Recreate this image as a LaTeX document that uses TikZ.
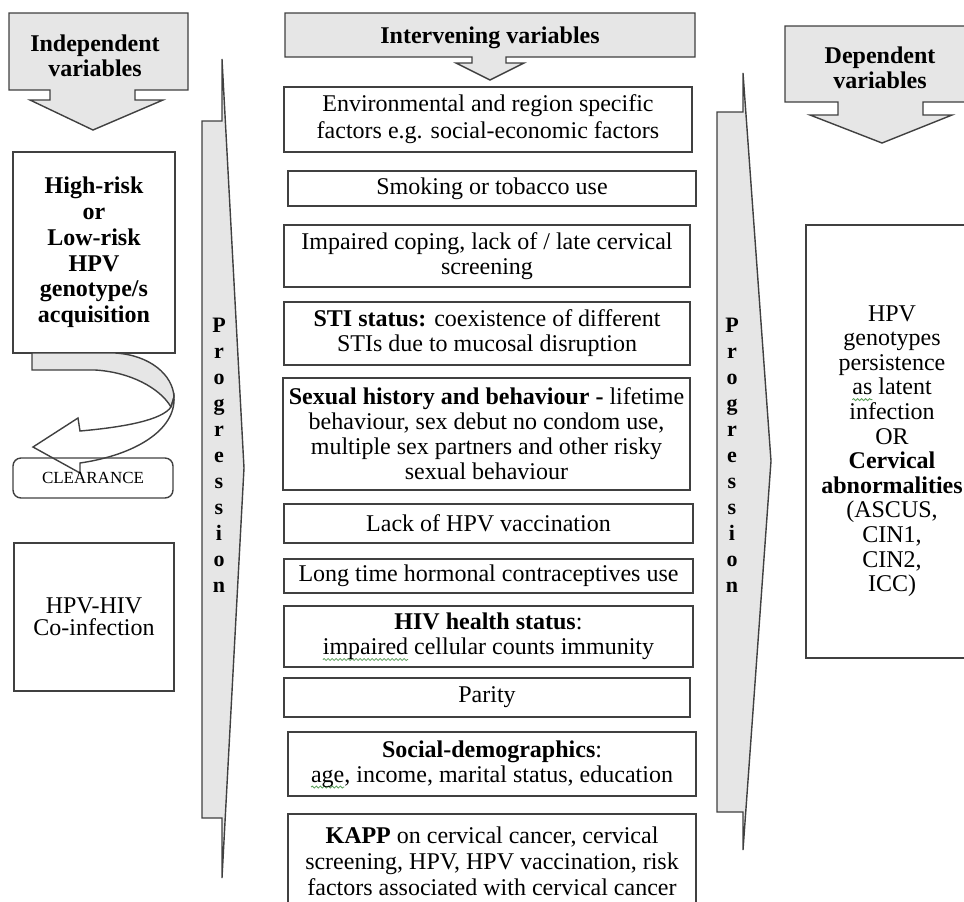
\documentclass[tikz,border=0pt]{standalone}
\usepackage{fontspec}
\setmainfont{Liberation Serif}
\usetikzlibrary{decorations.pathmorphing}
\definecolor{edge}{HTML}{404040}
\definecolor{shade}{HTML}{E6E6E6}
\definecolor{squigc}{HTML}{5A9E5A}
\newsavebox\sqbox
\newcommand\squig[1]{\sbox\sqbox{#1}\rlap{\tikz[overlay,baseline=0pt]\draw[squigc,line width=0.4pt,decorate,decoration={snake,amplitude=0.5pt,segment length=2pt}] (0pt,-2.4pt) -- (\wd\sqbox,-2.4pt);}\usebox\sqbox}
\begin{document}
\begin{tikzpicture}[x=0.5pt,y=-0.5pt,
  box/.style={draw=edge,line width=0.7pt,fill=white,align=center,inner sep=0pt,font=\fontsize{12}{12.5}\selectfont},
  shp/.style={draw=edge,line width=0.7pt,fill=shade,line join=miter},
  lbl/.style={align=center,inner sep=0pt,font=\fontsize{12}{12.5}\selectfont\bfseries},
  prog/.style={align=center,inner sep=0pt,font=\fontsize{11}{13}\selectfont\bfseries}]
\useasboundingbox (0,0) rectangle (964,901);
\clip (0,0) rectangle (964,901);

% header arrows
\path[shp] (9,13) -- (188,13) -- (188,90) -- (135,90) -- (135,100) -- (163,100) -- (93,130) -- (30,100) -- (50,100) -- (50,90) -- (9,90) -- cycle;
\node[lbl] (indep) at (95,56) {Independent\\variables};

\path[shp] (285,13) -- (695,13) -- (695,57) -- (506,57) -- (506,63) -- (524,63) -- (490,80) -- (456,63) -- (472,63) -- (472,57) -- (285,57) -- cycle;
\node[lbl] (interv) at (490,38) {Intervening variables};

\path[shp] (785,26) -- (977,26) -- (977,102) -- (923,102) -- (923,115) -- (952,115) -- (882,143) -- (810,115) -- (838,115) -- (838,102) -- (785,102) -- cycle;
\node[lbl] (depend) at (880,68) {Dependent\\variables};

% progression arrows
\path[shp] (202,121) -- (222,121) -- (222,59) -- (244,468) -- (222,878) -- (222,818) -- (202,818) -- cycle;
\node[prog] (progl) at (219,455) {P\\r\\o\\g\\r\\e\\s\\s\\i\\o\\n};
\path[shp] (717,112) -- (743,112) -- (743,73) -- (771,461) -- (743,850) -- (743,812) -- (717,812) -- cycle;
\node[prog] (progr) at (732,455) {P\\r\\o\\g\\r\\e\\s\\s\\i\\o\\n};

% left column
\node[box,minimum width=81pt,minimum height=100.5pt,font=\fontsize{12}{12.9}\selectfont\bfseries] (hpv) at (94,252.5) {High-risk\\or\\Low-risk\\HPV\\genotype/s\\acquisition};
\path[shp] (32,353) -- (115,353) .. controls (150,355) and (173,375) .. (174,397) -- (171,407) .. controls (160,388) and (130,372) .. (95,370) -- (32,370) -- cycle;
\path[draw=edge,line width=0.7pt,fill=white,line join=miter] (174,397) .. controls (176,430) and (135,455) .. (80,463) -- (80,473) -- (33,447) -- (78,418) -- (80,431) .. controls (125,427) and (162,420) .. (171,407) -- cycle;
\node[draw=edge,line width=0.7pt,rounded corners=4pt,minimum width=80pt,minimum height=20pt,inner sep=0pt,font=\fontsize{8.5}{10}\selectfont] (clear) at (93,478) {CLEARANCE};
\node[box,minimum width=80pt,minimum height=74pt,font=\fontsize{12}{10.8}\selectfont] (coinf) at (94,617) {HPV-HIV\\Co-infection};

% centre column
\node[box,minimum width=204pt,minimum height=32.5pt,font=\fontsize{12}{13.5}\selectfont] (env) at (488,119.5) {Environmental and region specific\\factors e.g. social-economic factors};
\node[box,minimum width=204pt,minimum height=17.5pt] (smoke) at (492,188.5) {Smoking or tobacco use};
\node[box,minimum width=203pt,minimum height=31pt] (cope) at (487,256) {Impaired coping, lack of / late cervical\\screening};
\node[box,minimum width=203pt,minimum height=31.5pt] (sti) at (487,333.5) {\textbf{STI status:} coexistence of different\\STIs due to mucosal disruption};
\node[box,minimum width=203.5pt,minimum height=56pt] (sex) at (486.5,434) {\textbf{Sexual history and behaviour -} lifetime\\behaviour, sex debut no condom use,\\multiple sex partners and other risky\\sexual behaviour};
\node[box,minimum width=204.5pt,minimum height=19.5pt] (vacc) at (488.5,523.5) {Lack of HPV vaccination};
\node[box,minimum width=204.5pt,minimum height=17pt] (horm) at (488.5,576) {Long time hormonal contraceptives use};
\node[box,minimum width=204.5pt,minimum height=30.5pt] (hiv) at (488.5,636.5) {\textbf{HIV health status}:\\\squig{impaired} cellular counts immunity};
\node[box,minimum width=203pt,minimum height=19.5pt] (parity) at (487,697.5) {Parity};
\node[box,minimum width=204pt,minimum height=32pt] (socio) at (492,764) {\textbf{Social-demographics}:\\\squig{age}, income, marital status, education};
\node[box,minimum width=204pt,minimum height=47pt,font=\fontsize{12}{13}\selectfont] (kapp) at (492,861) {\textbf{KAPP} on cervical cancer, cervical\\screening, HPV, HPV vaccination, risk\\factors associated with cervical cancer};

% right column
\node[box,minimum width=85.5pt,minimum height=216.5pt] (dep) at (891.5,441.5) {};
\node[align=center,inner sep=0pt,font=\fontsize{12}{12.3}\selectfont] (deptext) at (892,451) {HPV\\genotypes\\persistence\\\squig{as} latent\\infection\\OR\\\textbf{Cervical}\\\textbf{abnormalities}\\(ASCUS,\\CIN1,\\CIN2,\\ICC)};
\end{tikzpicture}
\end{document}
